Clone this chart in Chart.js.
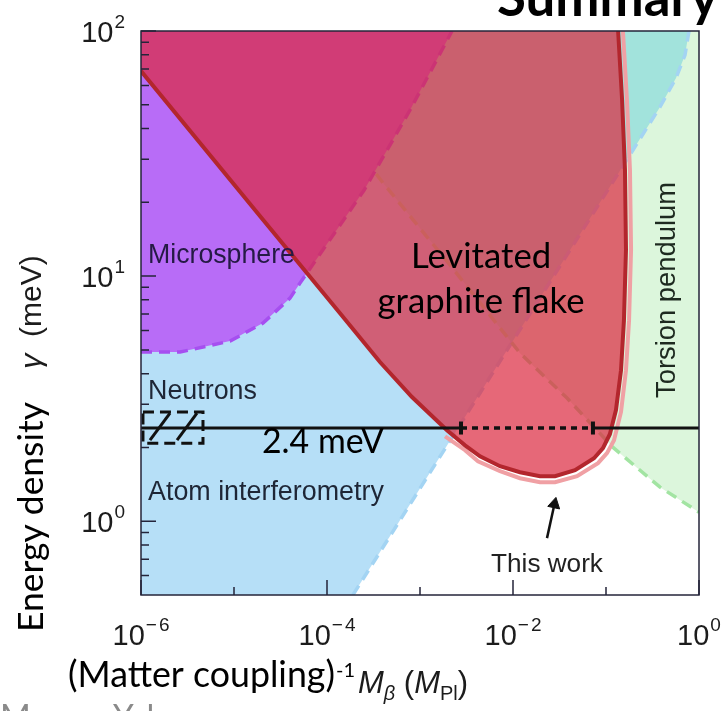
<!DOCTYPE html>
<html>
<head>
<meta charset="utf-8">
<script src="https://cdn.jsdelivr.net/npm/chart.js@4.4.1/dist/chart.umd.min.js"></script>
<style>
  html, body { margin: 0; padding: 0; background: #fff; }
  canvas { display: block; }
</style>
</head>
<body>
<canvas id="chart" width="728" height="711"></canvas>
<script>
// ---------- axis ranges and ticks ----------
const xMin = 1e-6, xMax = 1;
const yMin = 0.5, yMax = 100;
const xTickValues = [1e-6, 1e-5, 1e-4, 1e-3, 1e-2, 1e-1, 1];
const xLabelExponents = [-6, -4, -2, 0];
const yLabelExponents = [0, 1, 2];
const yMinorValues = [0.6, 0.7, 0.8, 0.9, 2, 3, 4, 5, 6, 7, 8, 9, 20, 30, 40, 50, 60, 70, 80, 90];

// ---------- exclusion edges (M_beta in M_Pl, gamma in meV) ----------
// Atom interferometry: excluded to the left of this edge
const atomX = [1.90e-4, 0.195, 0.381, 0.566, 0.707, 0.781];
const atomY = [0.5, 32.7, 49.0, 64.3, 79.8, 100];

// Torsion pendulum: excluded above / right of this edge
const torsionX = [2.26e-5, 4.00e-4, 2.10e-3, 0.0119, 0.0381, 0.119, 0.381, 1];
const torsionY = [100, 24.0, 11.1, 4.85, 3.18, 2.00, 1.377, 1.088];

// Microsphere: excluded above this edge
const microX = [1e-6, 2.63e-6, 9.06e-6, 2.05e-5, 4.00e-5, 5.12e-5, 2.50e-4, 7.81e-4, 2.21e-3];
const microY = [4.90, 4.90, 5.43, 6.43, 8.13, 9.36, 22.4, 47.6, 100];

// Levitated graphite flake (this work)
const flakeX = [1e-6, 1.90e-5, 1.38e-4, 3.71e-4, 8.20e-4, 1.95e-3, 3.05e-3, 4.42e-3, 7.25e-3,
                0.0119, 0.0195, 0.0283, 0.0464, 0.0743, 0.0928, 0.110, 0.128, 0.145, 0.156,
                0.164, 0.160, 0.149, 0.135];
const flakeY = [68.6, 17.6, 7.06, 4.46, 3.21, 2.35, 2.04, 1.84, 1.677,
                1.585, 1.526, 1.526, 1.615, 1.807, 1.986, 2.265, 2.84, 4.13, 6.61,
                12.8, 27.1, 52.3, 100];
// outer uncertainty band of the same bound
const flakeBandX = [1.86e-3, 3.05e-3, 4.20e-3, 7.25e-3, 0.0119, 0.0195, 0.0283, 0.0488, 0.0820,
                    0.1025, 0.122, 0.145, 0.164, 0.177, 0.186, 0.181, 0.168, 0.152];
const flakeBandY = [2.22, 1.949, 1.757, 1.600, 1.498, 1.443, 1.443, 1.526, 1.725,
                    1.895, 2.14, 2.79, 4.13, 6.61, 12.8, 27.1, 52.3, 100];

// Dark energy scale and the coupling span left open
const darkEnergyScale = 2.4;          // meV
const openSpanX = [2.76e-3, 0.0724];  // ends of the dotted part

// Neutron bound (hatched box)
const neutronBoxX = [1.05e-6, 4.64e-6];
const neutronBoxY = [2.08, 2.79];
const neutronHatchX = [[1.25e-6, 2.05e-6], [2.44e-6, 4.00e-6]];
const neutronHatchY = [2.14, 2.76];

// arrow pointing at the bound
const arrowX = [0.0232, 0.0279];
const arrowY = [0.853, 1.173];

// ---------- styles ----------
const FIG = '"Liberation Sans", Arial, sans-serif';
const SLIDE = 'Lato, "Open Sans", sans-serif';
const C = {
  atom: '#b6dff7', atomEdge: '#a3d4f3',
  torsion: '#dcf6dc', torsionEdge: '#a2e4a2',
  overlap: '#a2e3dc',
  micro: '#b86cf7', microEdge: '#a64ff0',
  flakeFill: 'rgba(220, 40, 62, 0.70)', flakeLine: '#b3262d', flakeBand: '#f0a0a4',
  ink: '#111', frame: '#24243a'
};

// ---------- helpers ----------
const pts = (xs, ys) => xs.map((x, i) => ({ x, y: ys[i] }));

function edgeCrossing(ax, ay, bx, by) {
  const A = ax.map((x, i) => [Math.log10(x), Math.log10(ay[i])]);
  const B = bx.map((x, i) => [Math.log10(x), Math.log10(by[i])]);
  for (let i = 0; i < A.length - 1; i++) {
    for (let j = 0; j < B.length - 1; j++) {
      const p = A[i], r = [A[i + 1][0] - p[0], A[i + 1][1] - p[1]];
      const q = B[j], s = [B[j + 1][0] - q[0], B[j + 1][1] - q[1]];
      const den = r[0] * s[1] - r[1] * s[0];
      if (!den) continue;
      const t = ((q[0] - p[0]) * s[1] - (q[1] - p[1]) * s[0]) / den;
      const u = ((q[0] - p[0]) * r[1] - (q[1] - p[1]) * r[0]) / den;
      if (t >= 0 && t <= 1 && u >= 0 && u <= 1) {
        return { i, j, x: Math.pow(10, p[0] + t * r[0]), y: Math.pow(10, p[1] + t * r[1]) };
      }
    }
  }
  return null;
}

function area(data, color, order) {
  return { data, fill: 'shape', backgroundColor: color, borderColor: 'transparent',
           borderWidth: 0, pointRadius: 0, order };
}
function edge(data, color, width, dash, order, extra) {
  return Object.assign({ data, fill: false, borderColor: color, borderWidth: width,
           borderDash: dash || [], pointRadius: 0, order, borderCapStyle: 'butt' }, extra || {});
}

// ---------- regions ----------
const atomRegion = [{ x: xMin, y: yMin }, ...pts(atomX, atomY), { x: xMin, y: yMax }];
const torsionRegion = [...pts(torsionX, torsionY), { x: xMax, y: yMax }];
const cross = edgeCrossing(torsionX, torsionY, atomX, atomY);
const overlapRegion = [
  ...pts(torsionX.slice(0, cross.i + 1), torsionY.slice(0, cross.i + 1)),
  { x: cross.x, y: cross.y },
  ...pts(atomX.slice(cross.j + 1), atomY.slice(cross.j + 1))
];
const microRegion = [...pts(microX, microY), { x: xMin, y: yMax }];
const flakeRegion = [...pts(flakeX, flakeY), { x: xMin, y: yMax }];

const neutronBox = [
  { x: neutronBoxX[0], y: neutronBoxY[1] }, { x: neutronBoxX[1], y: neutronBoxY[1] },
  { x: neutronBoxX[1], y: neutronBoxY[0] }, { x: neutronBoxX[0], y: neutronBoxY[0] },
  { x: neutronBoxX[0], y: neutronBoxY[1] }
];

// higher order = drawn further below
const datasets = [
  area(atomRegion, C.atom, 30),
  area(torsionRegion, C.torsion, 29),
  area(overlapRegion, C.overlap, 28),
  edge(pts(atomX, atomY), C.atomEdge, 3.5, [11, 7], 27),
  edge(pts(torsionX, torsionY), C.torsionEdge, 3.5, [11, 7], 26),
  area(microRegion, C.micro, 25),
  edge(pts(microX, microY), C.microEdge, 3.5, [11, 7], 24),
  edge(pts(flakeBandX, flakeBandY), C.flakeBand, 4, [], 23),
  area(flakeRegion, C.flakeFill, 22),
  edge(pts(flakeX, flakeY), C.flakeLine, 4, [], 21),
  // dark energy scale line
  edge([{ x: xMin, y: darkEnergyScale }, { x: openSpanX[0], y: darkEnergyScale }], C.ink, 3, [], 20),
  edge([{ x: openSpanX[1], y: darkEnergyScale }, { x: xMax, y: darkEnergyScale }], C.ink, 3, [], 19),
  edge([{ x: openSpanX[0], y: darkEnergyScale }, { x: openSpanX[1], y: darkEnergyScale }], C.ink, 3.5, [6, 5], 18,
       { pointRadius: 6.5, pointStyle: 'line', rotation: 90, pointBorderWidth: 4,
         pointBorderColor: C.ink, pointBackgroundColor: C.ink }),
  // neutrons
  edge(neutronBox, C.ink, 3, [11, 6], 17),
  edge(pts(neutronHatchX[0], neutronHatchY), C.ink, 3, [], 16),
  edge(pts(neutronHatchX[1], neutronHatchY), C.ink, 3, [], 15),
  // arrow
  edge(pts(arrowX, arrowY), C.ink, 2.5, [], 14, {
    pointRadius: [0, 7], pointStyle: 'triangle', pointBackgroundColor: C.ink,
    pointBorderColor: C.ink, pointBorderWidth: 1,
    rotation: (c) => {
      const s = c.chart.scales;
      const dx = s.x.getPixelForValue(arrowX[1]) - s.x.getPixelForValue(arrowX[0]);
      const dy = s.y.getPixelForValue(arrowY[1]) - s.y.getPixelForValue(arrowY[0]);
      return Math.atan2(dx, -dy) * 180 / Math.PI;
    }
  })
];

// ---------- text helpers ----------
function fitSize(ctx, text, style, family, width) {
  ctx.font = `${style} 100px ${family}`;
  return 100 * width / ctx.measureText(text).width;
}

function drawPower(ctx, exp, x, baseY, align) {
  const big = 29, small = 19, raise = 14;
  ctx.font = `${big}px ${FIG}`;
  const wBase = ctx.measureText('10').width;
  ctx.font = `${small}px ${FIG}`;
  const digit = String(Math.abs(exp));
  const wMinus = exp < 0 ? ctx.measureText('\u2212').width + 2 : 0;
  const wDigit = ctx.measureText(digit).width;
  const total = wBase + 1 + wMinus + wDigit;
  const x0 = align === 'center' ? x - total / 2 : x - total;
  ctx.textAlign = 'left';
  ctx.textBaseline = 'alphabetic';
  ctx.font = `${big}px ${FIG}`;
  ctx.fillText('10', x0, baseY);
  ctx.font = `${small}px ${FIG}`;
  let sx = x0 + wBase + 1;
  if (exp < 0) { ctx.fillText('\u2212', sx, baseY - raise); sx += wMinus; }
  ctx.fillText(digit, sx, baseY - raise);
}

// runs of [text, font, baseline shift]
function drawRuns(ctx, runs, x, y) {
  let cx = x;
  for (const [t, f, dy] of runs) {
    ctx.font = f;
    ctx.fillText(t, cx, y + (dy || 0));
    cx += ctx.measureText(t).width;
  }
  return cx;
}
function runsWidth(ctx, runs) {
  let w = 0;
  for (const [t, f] of runs) { ctx.font = f; w += ctx.measureText(t).width; }
  return w;
}

const decor = {
  id: 'decor',
  beforeDraw(chart) {
    const ctx = chart.ctx;
    ctx.save();
    ctx.fillStyle = '#fff';
    ctx.fillRect(0, 0, chart.width, chart.height);
    ctx.restore();
  },
  afterDatasetsDraw(chart) {
    const { ctx, chartArea: a, scales: { x, y } } = chart;
    ctx.save();
    ctx.strokeStyle = C.frame;
    ctx.lineWidth = 1.5;
    ctx.beginPath();
    yMinorValues.forEach(v => {
      const py = y.getPixelForValue(v);
      ctx.moveTo(a.left, py); ctx.lineTo(a.left + 8, py);
    });
    yLabelExponents.forEach(e => {
      const py = y.getPixelForValue(Math.pow(10, e));
      ctx.moveTo(a.left, py); ctx.lineTo(a.left + 15, py);
    });
    xTickValues.forEach(v => {
      const px = x.getPixelForValue(v);
      const len = xLabelExponents.includes(Math.round(Math.log10(v))) ? 15 : 8;
      ctx.moveTo(px, a.bottom); ctx.lineTo(px, a.bottom - len);
    });
    ctx.stroke();
    ctx.strokeRect(a.left, a.top, a.right - a.left, a.bottom - a.top);
    ctx.restore();
  },
  afterDraw(chart) {
    const { ctx, scales: { x, y } } = chart;
    ctx.save();
    ctx.fillStyle = '#1c1c1c';

    // tick labels
    xLabelExponents.forEach(e => drawPower(ctx, e, x.getPixelForValue(Math.pow(10, e)), 645, 'center'));
    yLabelExponents.forEach(e => drawPower(ctx, e, 125, y.getPixelForValue(Math.pow(10, e)) + 11, 'right'));

    // labels inside the plot
    ctx.textAlign = 'left';
    ctx.textBaseline = 'alphabetic';
    const lab = (t, w, px, py, color) => {
      const s = fitSize(ctx, t, '', FIG, w);
      ctx.font = `${s}px ${FIG}`;
      ctx.fillStyle = color;
      ctx.fillText(t, px, py);
    };
    lab('Microsphere', 147, 148, 263, '#251a45');
    lab('Neutrons', 109, 148, 399, '#1e2636');
    lab('Atom interferometry', 236, 148, 500, '#1e2636');
    ctx.textAlign = 'center';
    lab('This work', 112, 547, 572, '#222');

    // Torsion pendulum, vertical
    ctx.save();
    ctx.translate(675, 290);
    ctx.rotate(-Math.PI / 2);
    ctx.textAlign = 'center';
    lab('Torsion pendulum', 216, 0, 0, '#1e2a20');
    ctx.restore();

    // slide annotations
    ctx.fillStyle = '#000';
    ctx.textAlign = 'center';
    const s1 = fitSize(ctx, 'graphite flake', '', SLIDE, 207);
    ctx.font = `${s1}px ${SLIDE}`;
    ctx.fillText('Levitated', 481, 268);
    ctx.fillText('graphite flake', 481, 313);

    ctx.textAlign = 'left';
    const s2 = fitSize(ctx, '2.4 meV', '', SLIDE, 122);
    ctx.font = `${s2}px ${SLIDE}`;
    ctx.fillText('2.4 meV', 262, 453);

    // y axis title
    ctx.save();
    ctx.translate(43, 517);
    ctx.rotate(-Math.PI / 2);
    ctx.textAlign = 'center';
    const s3 = fitSize(ctx, 'Energy density', '', SLIDE, 230);
    ctx.font = `${s3}px ${SLIDE}`;
    ctx.fillText('Energy density', 0, 0);
    ctx.restore();

    ctx.save();
    ctx.translate(41, 312);
    ctx.rotate(-Math.PI / 2);
    ctx.textAlign = 'left';
    ctx.fillStyle = '#1c1c1c';
    const gRuns = [['\u03b3', `italic 30px ${FIG}`], ['  (meV)', `30px ${FIG}`]];
    drawRuns(ctx, gRuns, -runsWidth(ctx, gRuns) / 2, 0);
    ctx.restore();

    // x axis title
    ctx.fillStyle = '#000';
    ctx.textAlign = 'left';
    const s4 = fitSize(ctx, '(Matter coupling)', '', SLIDE, 267);
    ctx.font = `${s4}px ${SLIDE}`;
    ctx.fillText('(Matter coupling)', 68, 687);
    ctx.font = `${Math.round(s4 * 0.55)}px ${SLIDE}`;
    ctx.fillText('-1', 336, 677);

    ctx.fillStyle = '#1c1c1c';
    drawRuns(ctx, [
      ['M', `italic 31px ${FIG}`],
      ['\u03b2', `italic 20px ${FIG}`, 7],
      [' (', `31px ${FIG}`],
      ['M', `italic 31px ${FIG}`],
      ['Pl', `20px ${FIG}`, 7],
      [')', `31px ${FIG}`]
    ], 358, 693);

    // slide heading and footer
    ctx.fillStyle = '#000';
    ctx.textAlign = 'right';
    const s5 = fitSize(ctx, 'Summary', 'bold', SLIDE, 221);
    ctx.font = `bold ${s5}px ${SLIDE}`;
    ctx.fillText('Summary', 718, 16);

    ctx.fillStyle = '#8a8a8a';
    ctx.textAlign = 'left';
    const s6 = fitSize(ctx, 'Moore, ', '', SLIDE, 113);
    ctx.font = `${s6}px ${SLIDE}`;
    ctx.fillText('Moore, Yale', 0, 728);

    ctx.restore();
  }
};

new Chart(document.getElementById('chart'), {
  type: 'line',
  data: { datasets },
  options: {
    responsive: false,
    animation: false,
    devicePixelRatio: 1,
    layout: { padding: { left: 141, top: 31, right: 29, bottom: 116 } },
    scales: {
      x: { type: 'logarithmic', min: xMin, max: xMax, display: false },
      y: { type: 'logarithmic', min: yMin, max: yMax, display: false }
    },
    plugins: { legend: { display: false }, tooltip: { enabled: false } },
    elements: { line: { tension: 0 }, point: { radius: 0 } },
    events: []
  },
  plugins: [decor]
});
</script>
</body>
</html>
